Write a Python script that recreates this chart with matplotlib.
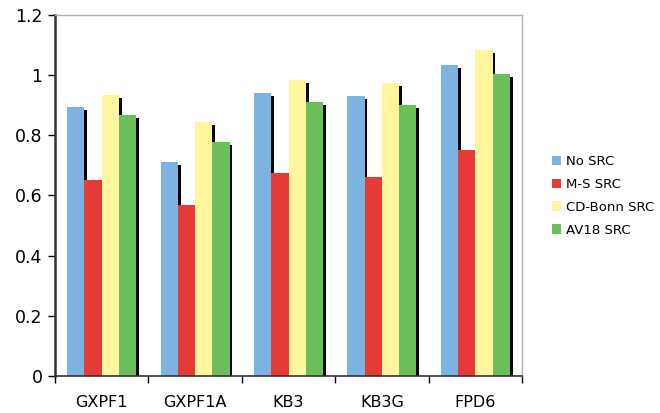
import matplotlib
matplotlib.use("Agg")
import matplotlib.pyplot as plt
import numpy as np

models = ["GXPF1", "GXPF1A", "KB3", "KB3G", "FPD6"]
series = ["No SRC", "M-S SRC", "CD-Bonn SRC", "AV18 SRC"]
no_src = [0.895, 0.710, 0.940, 0.930, 1.035]
ms_src = [0.650, 0.570, 0.675, 0.663, 0.750]
cdbonn_src = [0.935, 0.845, 0.985, 0.975, 1.085]
av18_src = [0.868, 0.778, 0.910, 0.900, 1.005]
yticks = [0, 0.2, 0.4, 0.6, 0.8, 1, 1.2]
ytick_labels = ["0", "0.2", "0.4", "0.6", "0.8", "1", "1.2"]

colors = ["#7db3e1", "#e53a35", "#fff59c", "#6bbf5a"]
values = [no_src, ms_src, cdbonn_src, av18_src]

fig = plt.figure(figsize=(6.6, 4.13), dpi=100)
ax = fig.add_axes([55 / 660, 37 / 413, 467 / 660, 361 / 413])

x = np.arange(len(models))
width = 0.185
start = -1.5 * width
dx, dy = 0.03, 0.01

# shadows first, bars on top
for i, vals in enumerate(values):
    pos = x + start + i * width
    ax.bar(pos + dx, np.array(vals) - dy, width=width, color="black",
           align="center", zorder=1)
for i, (vals, name) in enumerate(zip(values, series)):
    pos = x + start + i * width
    ax.bar(pos, vals, width=width, color=colors[i], label=name,
           align="center", zorder=2)

ax.set_xlim(-0.5, len(models) - 0.5)
ax.set_ylim(0, 1.2)
ax.set_yticks(yticks)
ax.set_yticklabels(ytick_labels, fontsize=12.5)
ax.set_xticks(x)
ax.set_xticklabels(models, fontsize=11.5)
ax.set_xticks(np.arange(len(models) + 1) - 0.5, minor=True)
ax.tick_params(axis="x", which="major", length=0, pad=14)
ax.tick_params(axis="x", which="minor", length=5, width=1, direction="out")
ax.tick_params(axis="y", length=5, width=1, direction="out", pad=4)

for s in ("top", "right"):
    ax.spines[s].set_color("#b0b0b0")
    ax.spines[s].set_linewidth(1)
ax.spines["left"].set_color("#333333")
ax.spines["left"].set_linewidth(1.8)
ax.spines["bottom"].set_color("#333333")
ax.spines["bottom"].set_linewidth(1.2)

leg = fig.legend(loc="upper left", bbox_to_anchor=(540 / 660, 1 - 143 / 413),
                 frameon=False, fontsize=9.5, handlelength=0.7,
                 handleheight=0.7, handletextpad=0.4, labelspacing=0.75)

fig.savefig("out.png", dpi=100)
